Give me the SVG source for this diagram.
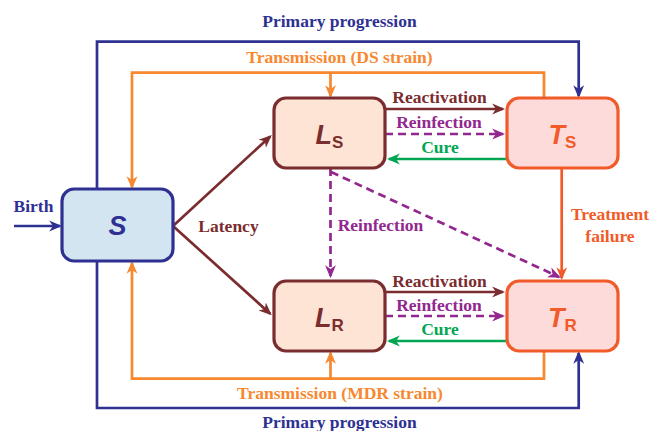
<svg xmlns="http://www.w3.org/2000/svg" width="656" height="431" viewBox="0 0 656 431">
<defs>
<style>
.lbl{font-family:"Liberation Serif","Times New Roman",serif;font-weight:bold;font-size:17.5px;text-anchor:middle}
.node-txt{font-family:"Liberation Sans",Arial,sans-serif;font-weight:bold;text-anchor:middle}
.main{font-style:italic;font-size:27px}
.sub{font-style:normal;font-size:17px}
.c{fill:none;stroke-width:2.7}
.dash{stroke-dasharray:8,5}
.box{stroke-width:3.2}
</style>
<marker id="aBlue" viewBox="0 0 12 12" refX="10" refY="6" markerWidth="13" markerHeight="13" markerUnits="userSpaceOnUse" orient="auto"><path d="M0,1 L12,6 L0,11 L3.5,6 z" fill="#2e3192"/></marker>
<marker id="aOrange" viewBox="0 0 12 12" refX="10" refY="6" markerWidth="13" markerHeight="13" markerUnits="userSpaceOnUse" orient="auto"><path d="M0,1 L12,6 L0,11 L3.5,6 z" fill="#f7882f"/></marker>
<marker id="aMaroon" viewBox="0 0 12 12" refX="10" refY="6" markerWidth="13" markerHeight="13" markerUnits="userSpaceOnUse" orient="auto"><path d="M0,1 L12,6 L0,11 L3.5,6 z" fill="#7b2c2e"/></marker>
<marker id="aPurple" viewBox="0 0 12 12" refX="10" refY="6" markerWidth="13" markerHeight="13" markerUnits="userSpaceOnUse" orient="auto"><path d="M0,1 L12,6 L0,11 L3.5,6 z" fill="#92278f"/></marker>
<marker id="aGreen" viewBox="0 0 12 12" refX="10" refY="6" markerWidth="13" markerHeight="13" markerUnits="userSpaceOnUse" orient="auto"><path d="M0,1 L12,6 L0,11 L3.5,6 z" fill="#00a651"/></marker>
<marker id="aRed" viewBox="0 0 12 12" refX="10" refY="6" markerWidth="13" markerHeight="13" markerUnits="userSpaceOnUse" orient="auto"><path d="M0,1 L12,6 L0,11 L3.5,6 z" fill="#f15a29"/></marker>
</defs>
<rect width="656" height="431" fill="#ffffff"/>

<g id="connectors">
<path class="c" stroke="#2e3192" d="M97,189 V41.7 H578.7 V96" marker-end="url(#aBlue)"/>
<path class="c" stroke="#2e3192" d="M97,261 V408 H578.7 V353" marker-end="url(#aBlue)"/>
<path class="c" stroke="#2e3192" d="M14,226 H60" marker-end="url(#aBlue)"/>
<path class="c" stroke="#f7882f" d="M544,98 V72.7 H132 V187" marker-end="url(#aOrange)"/>
<path class="c" stroke="#f7882f" d="M330.5,72.7 V96" marker-end="url(#aOrange)"/>
<path class="c" stroke="#f7882f" d="M544,351 V378.7 H132 V263" marker-end="url(#aOrange)"/>
<path class="c" stroke="#f7882f" d="M330.5,378.7 V353" marker-end="url(#aOrange)"/>
<path class="c" stroke="#7b2c2e" d="M173,226 L270.2,136.4" marker-end="url(#aMaroon)"/>
<path class="c" stroke="#7b2c2e" d="M173,226 L270.2,313.7" marker-end="url(#aMaroon)"/>
<path class="c" stroke="#7b2c2e" d="M385,109 H503" marker-end="url(#aMaroon)"/>
<path class="c dash" stroke="#92278f" d="M385,134 H503" marker-end="url(#aPurple)"/>
<path class="c" stroke="#00a651" d="M507,159 H389" marker-end="url(#aGreen)"/>
<path class="c" stroke="#7b2c2e" d="M385,292 H503" marker-end="url(#aMaroon)"/>
<path class="c dash" stroke="#92278f" d="M385,316 H503" marker-end="url(#aPurple)"/>
<path class="c" stroke="#00a651" d="M507,341 H389" marker-end="url(#aGreen)"/>
<path class="c" stroke="#f15a29" d="M561.7,168 V278" marker-end="url(#aRed)"/>
<path class="c dash" stroke="#92278f" d="M330.5,168 V276" marker-end="url(#aPurple)"/>
<path class="c dash" stroke="#92278f" d="M331,172 L558.9,276.9" marker-end="url(#aPurple)"/>
</g>

<g id="labels">
<text class="lbl" fill="#2e3192" x="339.5" y="27">Primary progression</text>
<text class="lbl" fill="#f7882f" x="339.5" y="62.7">Transmission (DS strain)</text>
<text class="lbl" fill="#7b2c2e" x="439.5" y="103">Reactivation</text>
<text class="lbl" fill="#92278f" x="439" y="128">Reinfection</text>
<text class="lbl" fill="#00a651" x="440" y="153">Cure</text>
<text class="lbl" fill="#7b2c2e" x="439.5" y="287">Reactivation</text>
<text class="lbl" fill="#92278f" x="439" y="311">Reinfection</text>
<text class="lbl" fill="#00a651" x="440" y="335">Cure</text>
<text class="lbl" fill="#7b2c2e" x="228.5" y="231.5">Latency</text>
<text class="lbl" fill="#92278f" x="380.5" y="231">Reinfection</text>
<text class="lbl" fill="#f15a29" x="610" y="220">Treatment</text>
<text class="lbl" fill="#f15a29" x="610" y="241.7">failure</text>
<text class="lbl" fill="#2e3192" x="33.5" y="211.7">Birth</text>
<text class="lbl" fill="#f7882f" x="340" y="399">Transmission (MDR strain)</text>
<text class="lbl" fill="#2e3192" x="339.5" y="428">Primary progression</text>
</g>

<g id="node-S">
<rect class="box" x="62" y="189" width="111" height="72" rx="12" fill="#d4e5f2" stroke="#2e3192"/>
<text class="node-txt main" fill="#2e3192" x="117.5" y="235">S</text>
</g>
<g id="node-LS">
<rect class="box" x="274" y="98" width="111" height="70" rx="12" fill="#fde4d4" stroke="#7b2c2e"/>
<text class="node-txt" fill="#7b2c2e" x="329.5" y="144"><tspan class="main">L</tspan><tspan class="sub" dy="4">S</tspan></text>
</g>
<g id="node-TS">
<rect class="box" x="507" y="98" width="111" height="70" rx="12" fill="#fddbda" stroke="#f15a29"/>
<text class="node-txt" fill="#f15a29" x="562.5" y="143.5"><tspan class="main">T</tspan><tspan class="sub" dy="4">S</tspan></text>
</g>
<g id="node-LR">
<rect class="box" x="274" y="281" width="111" height="70" rx="12" fill="#fde4d4" stroke="#7b2c2e"/>
<text class="node-txt" fill="#7b2c2e" x="329.5" y="327"><tspan class="main">L</tspan><tspan class="sub" dy="4">R</tspan></text>
</g>
<g id="node-TR">
<rect class="box" x="507" y="281" width="111" height="70" rx="12" fill="#fddbda" stroke="#f15a29"/>
<text class="node-txt" fill="#f15a29" x="562.5" y="326.7"><tspan class="main">T</tspan><tspan class="sub" dy="4">R</tspan></text>
</g>
</svg>
